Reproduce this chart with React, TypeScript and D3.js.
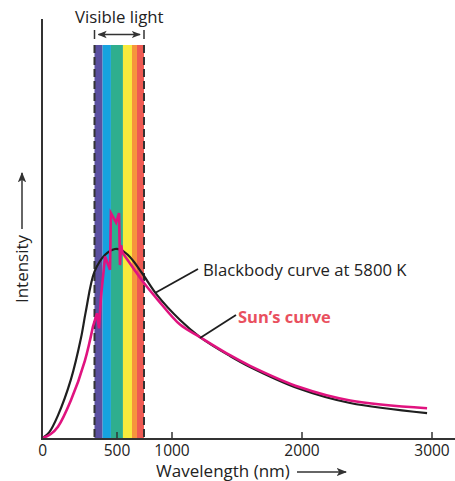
import React from 'react';
import * as d3 from 'd3';

// wavelength (nm) and relative intensity
const blackNm = [0, 50, 118, 218, 296, 333, 400, 447, 491, 530, 596, 685, 839, 1062, 1215, 1446, 1600, 1985, 2370, 2962];
const blackI = [0, 0.03, 0.12, 0.31, 0.53, 0.67, 0.88, 0.97, 1.0, 0.995, 0.958, 0.873, 0.757, 0.624, 0.534, 0.434, 0.376, 0.259, 0.185, 0.132];

// smooth rise, the absorption-line spikes, smooth tail
const sunRiseNm = [0, 60, 118, 218, 326, 388];
const sunRiseI = [0, 0.02, 0.06, 0.2, 0.41, 0.59];
const sunSpikeNm = [388, 411, 420, 429, 447, 469, 473, 496, 515, 522, 530, 541];
const sunSpikeI = [0.59, 0.66, 0.58, 0.75, 0.96, 0.89, 1.19, 1.14, 1.19, 0.915, 1.02, 0.98];
const sunTailNm = [541, 620, 700, 850, 1062, 1215, 1446, 1600, 1985, 2370, 2962];
const sunTailI = [0.98, 0.9, 0.82, 0.73, 0.6, 0.534, 0.438, 0.382, 0.268, 0.198, 0.157];

const bandEdges = [400, 436, 473, 544, 611, 648, 700];
const bandColors = ['#5a4f9f', '#16a2df', '#2fae8e', '#f8ea3c', '#f6953c', '#ee5a52'];

const xTicks = [0, 500, 1000, 2000, 3000];

const W = 455;
const H = 481;
const font = "'Open Sans', 'Noto Sans', sans-serif";

export default function App() {
  // the original axis is stretched around the visible band
  const x = d3.scaleLinear()
    .domain([0, 400, 500, 700, 1000, 3000])
    .range([42.7, 94.5, 117, 144, 172, 432]);
  const y = d3.scaleLinear().domain([0, 1]).range([438, 249]);
  const axisY = 439;

  const smooth = d3.line<[number, number]>()
    .x(d => x(d[0]))
    .y(d => y(d[1]))
    .curve(d3.curveCatmullRom.alpha(0.5));
  const sharp = d3.line<[number, number]>()
    .x(d => x(d[0]))
    .y(d => y(d[1]));

  const zip = (a: number[], b: number[]) => a.map((n, i) => [n, b[i]] as [number, number]);

  const blackPath = smooth(zip(blackNm, blackI)) || '';
  const sunPath = (smooth(zip(sunRiseNm, sunRiseI)) || '') +
    (sharp(zip(sunSpikeNm, sunSpikeI)) || '').replace(/^M/, 'L') +
    (smooth(zip(sunTailNm, sunTailI)) || '').replace(/^M/, 'L');

  const axisColor = '#333';
  const bandTop = 45;
  const vl = x(400), vr = x(700);

  return (
    <svg width={W} height={H} style={{ position: 'absolute', left: 0, top: 0 }} fontFamily={font}>
      <defs>
        <marker id="ah" viewBox="0 0 10 10" refX="9" refY="5" markerWidth="7" markerHeight="7" orient="auto-start-reverse">
          <path d="M0,1 L10,5 L0,9 L2.5,5 Z" fill={axisColor} />
        </marker>
      </defs>
      <rect width={W} height={H} fill="#fff" />

      {/* visible band */}
      {bandColors.map((c, i) => (
        <rect key={i} x={x(bandEdges[i])} y={bandTop} width={x(bandEdges[i + 1]) - x(bandEdges[i])} height={axisY - bandTop} fill={c} />
      ))}
      {[vl, vr].map((px, i) => (
        <line key={i} x1={px} x2={px} y1={bandTop} y2={axisY} stroke={axisColor} strokeWidth={2} strokeDasharray="8 4" />
      ))}

      {/* visible light label */}
      <text x={(vl + vr) / 2} y={23} textAnchor="middle" fontSize={16.8} fill="#222">Visible light</text>
      <line x1={vl} x2={vl} y1={30} y2={39} stroke={axisColor} strokeWidth={1.5} />
      <line x1={vr} x2={vr} y1={30} y2={39} stroke={axisColor} strokeWidth={1.5} />
      <line x1={vl + 4} x2={vr - 4} y1={34.5} y2={34.5} stroke={axisColor} strokeWidth={1.3} markerStart="url(#ah)" markerEnd="url(#ah)" />

      {/* curves */}
      <path d={blackPath} fill="none" stroke="#1f1f1f" strokeWidth={2.2} />
      <path d={sunPath} fill="none" stroke="#e0137f" strokeWidth={2.6} strokeLinejoin="miter" />

      {/* axes */}
      <line x1={42} x2={42} y1={19} y2={axisY} stroke={axisColor} strokeWidth={2} />
      <line x1={41} x2={W} y1={axisY} y2={axisY} stroke={axisColor} strokeWidth={2} />
      {xTicks.filter(t => t > 0).map(t => (
        <line key={t} x1={x(t)} x2={x(t)} y1={axisY - 7} y2={axisY} stroke={axisColor} strokeWidth={1.5} />
      ))}
      {xTicks.map(t => (
        <text key={t} x={x(t)} y={456} textAnchor="middle" fontSize={15.5} fill="#222">{t}</text>
      ))}

      <text x={223} y={477} textAnchor="middle" fontSize={17} fill="#222">Wavelength (nm)</text>
      <line x1={297} x2={346} y1={472} y2={472} stroke={axisColor} strokeWidth={1.5} markerEnd="url(#ah)" />

      <text transform="translate(28,269) rotate(-90)" textAnchor="middle" fontSize={17} fill="#222">Intensity</text>
      <line x1={22} x2={22} y1={229} y2={173} stroke={axisColor} strokeWidth={1.5} markerEnd="url(#ah)" />

      {/* annotations */}
      <line x1={155} y1={293} x2={198} y2={269} stroke="#1f1f1f" strokeWidth={1.8} />
      <text x={203} y={276} fontSize={16.7} fill="#222">Blackbody curve at 5800 K</text>
      <line x1={200} y1={338} x2={236} y2={315} stroke="#1f1f1f" strokeWidth={1.8} />
      <text x={238} y={323} fontSize={16.5} fontWeight="bold" fill="#e9505e">Sun’s curve</text>
    </svg>
  );
}
